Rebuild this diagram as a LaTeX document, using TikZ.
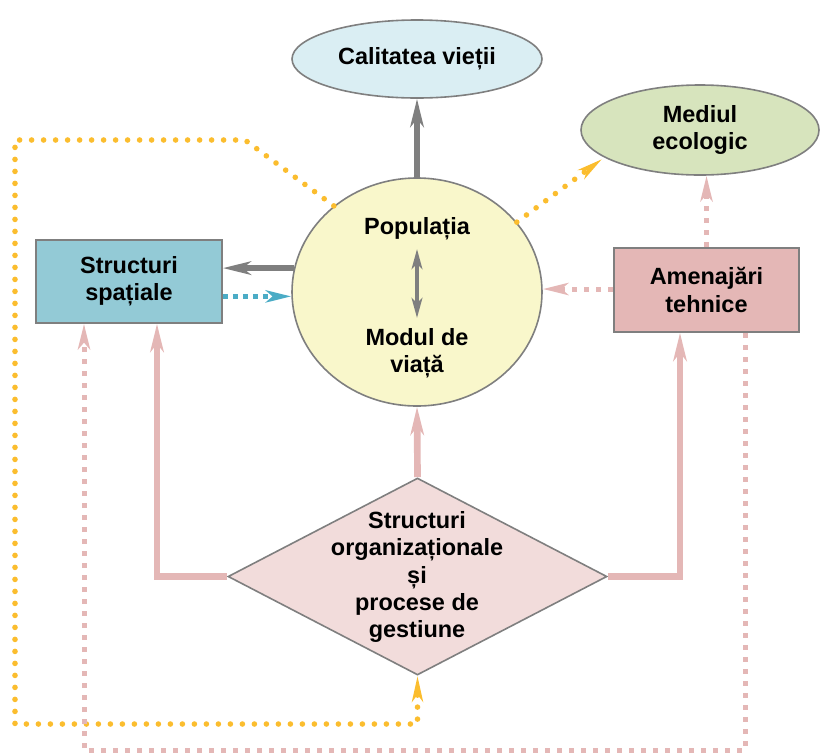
\documentclass[tikz,border=0pt]{standalone}
\usepackage{fontspec}
\setmainfont{Liberation Sans}
\usetikzlibrary{arrows.meta, shapes.geometric}

\definecolor{cvfill}{HTML}{DAEEF3}
\definecolor{mefill}{HTML}{D7E4BD}
\definecolor{pvfill}{HTML}{F9F7CB}
\definecolor{stfill}{HTML}{93CAD6}
\definecolor{amfill}{HTML}{E4B7B6}
\definecolor{dgfill}{HTML}{F2DCDB}
\definecolor{pinkline}{HTML}{E4B7B6}
\definecolor{orangeline}{HTML}{FBBD2E}
\definecolor{blueline}{HTML}{4BACC6}
\definecolor{grayline}{HTML}{7F7F7F}

\begin{document}
\begin{tikzpicture}[x=0.75pt, y=-0.75pt, line width=1.2pt,
            lbl/.style={font=\bfseries\fontsize{17.6}{20.4}\selectfont, align=center, inner sep=0pt},
            shp/.style={lbl, draw=grayline, line width=1.2pt},
            grayarr/.style={draw=grayline, line width=4.5pt, -{Stealth[length=21pt, width=10pt, inset=6pt]}},
            pinkarr/.style={draw=pinkline, line width=5pt, -{Stealth[length=21pt, width=10pt, inset=6pt]}},
            pinkdash/.style={draw=pinkline, line width=3.75pt, dash pattern=on 3.75pt off 5.25pt, -{Stealth[length=19pt, width=9pt, inset=5pt]}},
            bluedash/.style={draw=blueline, line width=3.75pt, dash pattern=on 3.75pt off 3.75pt, -{Stealth[length=19pt, width=9pt, inset=5pt]}},
            orangedot/.style={draw=orangeline, line width=4.2pt, line cap=round, dash pattern=on 0pt off 9pt, -{Stealth[length=19pt, width=8pt, inset=5pt]}}]
            \useasboundingbox (0,0) rectangle (820,754);
            \node[shp, ellipse, fill=cvfill, minimum width=187.5pt, minimum height=58.5pt] (cv) at (417,59) {Calitatea vieții};
            \node[shp, ellipse, fill=mefill, minimum width=178.5pt, minimum height=67.5pt] (me) at (700,130) {Mediul\\ecologic};
            \node[shp, ellipse, fill=pvfill, minimum width=187.5pt, minimum height=171pt] (pv) at (417,292) {};
            \node[lbl] (pop) at (417,229) {Populația};
            \node[lbl] (mod) at (417,353) {Modul de\\viață};
            \node[shp, rectangle, fill=stfill, minimum width=139.5pt, minimum height=62.25pt] (st) at (129,281.5) {Structuri\\spațiale};
            \node[shp, rectangle, fill=amfill, minimum width=138.75pt, minimum height=63pt] (am) at (706.5,290) {Amenajări\\tehnice};
            \node[shp, diamond, fill=dgfill, minimum width=284.25pt, minimum height=147.75pt, aspect=1.92] (dg) at (417.5,576.5) {};
            \node[lbl] (dgt) at (417,577) {Structuri\\organizaționale\\și\\procese de\\gestiune};

            \draw[grayarr] (pv.north) -- (cv.south);
            \draw[grayarr] (pv.169) -- (pv.169 -| st.east);
            \draw[bluedash] (pv.182 -| st.east) -- (pv.182);
            \draw[draw=grayline, line width=3pt, {Stealth[length=15pt, width=8pt, inset=4pt]}-{Stealth[length=15pt, width=8pt, inset=4pt]}] (417,249) -- (417,318);
            \draw[pinkdash] (am.west |- 0,289) -- (pv.east |- 0,289);
            \draw[pinkdash] (am.north) -- (am.north |- me.south);
            \draw[orangedot, shorten >=2pt] (pv.35) -- (me.196);
            \draw[orangedot] (pv.134) -- (245,140) -| (15,724) -| (dg.south);
            \draw[pinkdash] (am.south -| 745,0) -- (745,750) -| (st.south -| 84,0);
            \draw[pinkarr] (dg.west) -| (st.south -| 157,0);
            \draw[pinkarr] (dg.east) -| (am.south -| 680,0);
            \draw[pinkarr] (dg.north) -- (pv.south);
        \end{tikzpicture}
\end{document}
